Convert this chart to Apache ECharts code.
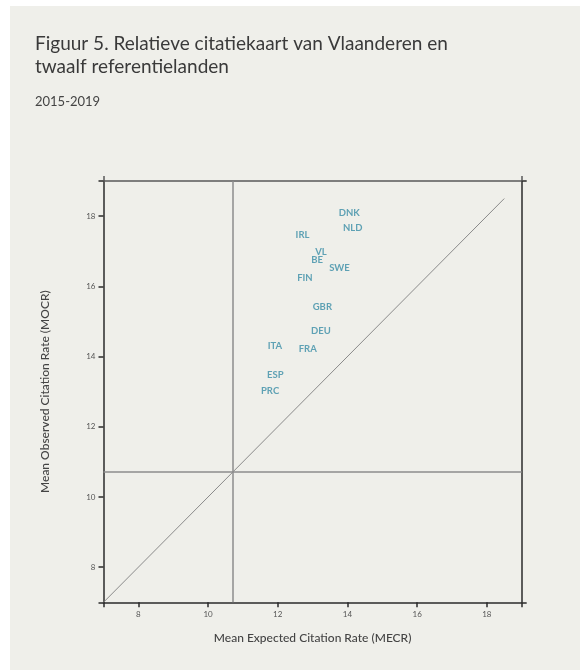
<!DOCTYPE html>
<html>
<head>
<meta charset="utf-8">
<script src="https://cdn.jsdelivr.net/npm/echarts@6/dist/echarts.min.js"></script>
<style>
    html, body { margin: 0; padding: 0; background: #ffffff; }
    #chart { width: 580px; height: 670px; }
</style>
</head>
<body>
<div id="chart"></div>
<script>
    // landen + (MECR, MOCR)
    var countries = ['DNK', 'NLD', 'IRL', 'VL', 'BE', 'SWE', 'FIN', 'GBR', 'DEU', 'ITA', 'FRA', 'ESP', 'PRC'];
    var mecr = [14.05, 14.15, 12.71, 13.24, 13.13, 13.77, 12.78, 13.28, 13.24, 11.92, 12.86, 11.93, 11.78];
    var mocr = [18.09, 17.65, 17.47, 16.99, 16.76, 16.51, 16.23, 15.41, 14.72, 14.30, 14.21, 13.49, 13.03];
    var meanMecr = 10.7;
    var meanMocr = 10.72;
    var diagonal = [7, 18.5];
    var tickValues = [7, 8, 10, 12, 14, 16, 18, 19];
    var labelValues = [8, 10, 12, 14, 16, 18];
    var endValues = [7, 19];

    var font = 'Lato';
    var labelColor = '#3a8da6';

    var points = countries.map(function (c, i) { return [mecr[i], mocr[i], c]; });
    var diagData = diagonal.map(function (v) { return [v, v]; });

    var myChart = echarts.init(document.getElementById('chart'));

    function axis(pos, name, labels, ticks, lineColor) {
        return {
            type: 'value',
            position: pos,
            min: 7,
            max: 19,
            name: name,
            nameLocation: 'middle',
            nameGap: pos === 'bottom' ? 30 : 52,
            nameTextStyle: { fontFamily: font, fontSize: 12, fontWeight: 500, color: '#444' },
            splitLine: { show: false },
            axisLine: { show: true, onZero: false, lineStyle: { color: lineColor, width: 1.5 } },
            axisTick: { show: true, inside: false, length: 5, customValues: ticks, lineStyle: { color: lineColor, width: 1.5 } },
            axisLabel: labels ? {
                show: true, customValues: labels, margin: 8,
                fontFamily: font, fontSize: 8, color: '#555'
            } : { show: false }
        };
    }

    myChart.setOption({
        backgroundColor: '#ffffff',
        animation: false,
        graphic: [{
            type: 'rect', z: -10, silent: true,
            shape: { x: 10, y: 6, width: 570, height: 664 },
            style: { fill: '#efefea' }
        }],
        title: [{
            text: 'Figuur 5. Relatieve citatiekaart van Vlaanderen en\ntwaalf referentielanden',
            left: 30, top: 27,
            textStyle: { fontFamily: font, fontSize: 19, fontWeight: 'normal', color: '#3a3a3a', lineHeight: 23 }
        }, {
            text: '2015-2019',
            left: 30, top: 90,
            textStyle: { fontFamily: font, fontSize: 13, fontWeight: 'normal', color: '#444' }
        }],
        grid: { left: 103.5, right: 58.3, top: 181, bottom: 67.7 },
        xAxis: [
            axis('bottom', 'Mean Expected Citation Rate (MECR)', labelValues, tickValues, '#2b2b2b'),
            axis('top', '', null, endValues, '#5a5a5a')
        ],
        yAxis: [
            axis('left', 'Mean Observed Citation Rate (MOCR)', labelValues, tickValues, '#2b2b2b'),
            axis('right', '', null, endValues, '#2b2b2b')
        ],
        series: [{
            type: 'line',
            data: diagData,
            symbol: 'none',
            silent: true,
            lineStyle: { color: '#8a8a8a', width: 1 },
            markLine: {
                silent: true,
                symbol: 'none',
                label: { show: false },
                lineStyle: { color: '#8c8c8c', width: 1.5, type: 'solid' },
                data: [{ xAxis: meanMecr }, { yAxis: meanMocr }]
            }
        }, {
            type: 'scatter',
            data: points,
            symbolSize: 0,
            label: {
                show: true,
                position: 'inside',
                formatter: function (p) { return p.value[2]; },
                fontFamily: font,
                fontSize: 9.5,
                fontWeight: 'bold',
                color: labelColor
            }
        }]
    });

    window.addEventListener('resize', function () {
        myChart.resize();
    });
</script>
</body>
</html>
